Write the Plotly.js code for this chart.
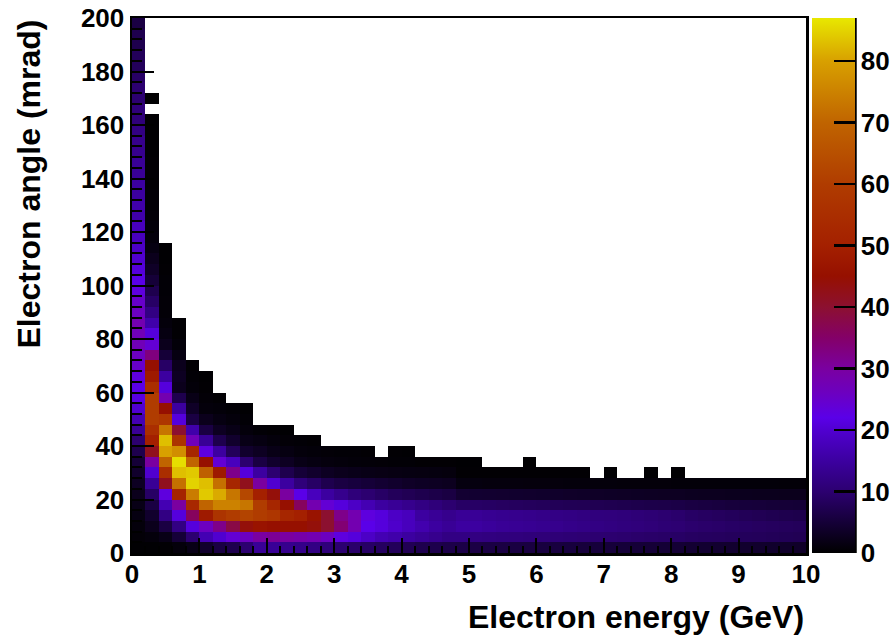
<!DOCTYPE html>
<html>
<head>
<meta charset="utf-8">
<script src="https://cdn.plot.ly/plotly-3.0.1.min.js"></script>
<style>html,body{margin:0;padding:0;background:#fff}</style>
</head>
<body>
<div id="chart" style="width:893px;height:636px"></div>
<script>
// Counts per angle bin (4 mrad wide, bottom to top), one array per energy bin (0.2 GeV wide).
// null = empty bin (left white).
const e00=[0.3,0.6,1,1.5,2,2.5,3,4,5,7,10,14,17,20,21.5,22,23,25,26,27,27,28,26,25,23,22,21,20,19,18,18,16,16,15,15,14,14,13,13,12,11,11,10,10,9,8,8,7,7,6];
const e01=[0.3,1,2.5,4,6,9,14,20,30,42,50,55,60,60,60,55,48,45,33,24,21,16,12,9,7,5,3.5,2.5,1.5,1,0.8,0.6,0.5,0.5,0.4,0.4,0.4,0.3,0.3,0.3,0.3,null,0.2];
const e02=[0.4,2,6,12,17,23,42,55,70,80,83,73,58,45,28,21,15,9,5,2.5,1.5,1,0.6,0.6,0.5,0.5,0.4,0.3,0.3];
const e03=[1,5,12,21,30,51,72,83,86,77,57,40,21,15,7,2.5,3,2.5,1.5,0.8,0.4,0.4];
const e04=[2,10,21,36,53,74,85,84,70,52,27,16,6,3.5,2,0.8,0.5,0.4];
const e05=[4,17,26,48,70,84,83,69,45,23,14,6,2.5,1,0.6,0.4,0.3];
const e06=[6,20,32,57,75,81,72,48,24,15,7,3,1.5,0.8,0.4];
const e07=[7,24,38,60,75,73,52,32,18,8,4,2,1,0.5];
const e08=[10,26,44,62,73,63,42,21,10,4,2,1,0.5,0.3];
const e09=[14,30,46,60,60,50,30,15,6,3,1.5,0.5];
const e10=[14,31,45,58,52,44,20,10,4,2,1,0.4];
const e11=[13,30,45,52,45,30,15,7,3,1.5,0.6,0.3];
const e12=[12.5,29,45,50,36,22,11,5,2,1,0.5];
const e13=[12,28,44,46,28,18,9,4,1.5,0.8,0.4];
const e14=[11,26,40,40,24,15,7,3,1.2,0.6];
const e15=[10,23,34,32,21,13,6,2.5,1,0.5];
const e16=[9.5,21,28,28,19,11,5.5,2.2,0.8,0.5];
const e17=[9,19,22,23,17,10,5,2,0.7,0.4];
const e18=[8.5,17,21,21,15,9,4.5,1.8,0.6];
const e19=[8,16,19.5,19,14,8,4,1.6,0.5,0.4];
const e20=[7.5,15,18,18,13,7.5,3.5,1.5,0.5,0.3];
const e21=[7,14,16.5,15,12,7,3.2,1.4,0.4];
const e22=[6.8,13,15,14,11,6.5,3,1.3,0.4];
const e23=[6.5,12,14,13,10,6,2.8,1.2,0.4];
const e24=[6.3,12,15,14,9,4.5,1.3,0.4,0.3];
const e25=[6.2,11.8,15,14,9,4.4,1.3,0.4,0.3];
const e26=[6.1,11.6,14.5,13.5,8.8,4.3,1.2,0.4];
const e27=[6,11.4,14,13.2,8.6,4.2,1.2,0.4];
const e28=[5.9,11.2,13.8,13,8.4,4.1,1.2,0.4];
const e29=[5.8,11,13.5,12.8,8.2,4,1.1,0.4,0.2];
const e30=[5.7,10.8,13.2,12.5,8,3.9,1.1,0.4];
const e31=[5.6,10.6,13,12.2,7.8,3.8,1.1,0.4];
const e32=[5.5,10.4,12.6,12,7.6,3.7,1,0.4];
const e33=[5.4,10.2,12.3,11.7,7.5,3.6,1,0.4];
const e34=[5.3,10,12,11.4,7.3,3.5,1];
const e35=[5.2,9.9,11.7,11.2,7.1,3.4,1,0.3];
const e36=[5.1,9.7,11.4,11,7,3.3,0.9];
const e37=[5,9.5,11.1,10.7,6.8,3.2,0.9];
const e38=[4.9,9.3,10.8,10.4,6.6,3.1,0.9,0.3];
const e39=[4.8,9.1,10.4,10,6.5,3,0.9];
const e40=[4.7,9,10.2,9.6,6.3,3,0.8,0.3];
const e41=[4.5,8.7,9.7,9,6,2.9,0.8];
const e42=[4.4,8.5,9.5,8.7,5.8,2.8,0.8];
const e43=[4.3,8.4,9.3,8.4,5.6,2.8,0.8];
const e44=[4.2,8.2,9,8.1,5.4,2.7,0.8];
const e45=[4.1,8.1,8.8,7.8,5.3,2.7,0.8];
const e46=[4,8,8.6,7.5,5.2,2.6,0.8];
const e47=[3.9,7.9,8.4,7.2,5,2.6,0.8];
const e48=[3.8,7.7,8.2,7,4.9,2.5,0.7];
const e49=[3.7,7.5,8,6.8,4.8,2.5,0.7];

const energyBins=[e00,e01,e02,e03,e04,e05,e06,e07,e08,e09,e10,e11,e12,e13,e14,e15,e16,e17,e18,e19,e20,e21,e22,e23,e24,e25,e26,e27,e28,e29,e30,e31,e32,e33,e34,e35,e36,e37,e38,e39,e40,e41,e42,e43,e44,e45,e46,e47,e48,e49];

const colorStops=[[0,'#000000'],[5,'#150038'],[10,'#2c0070'],[15,'#3c00a0'],[20,'#5000d0'],[22,'#5a00e8'],[26,'#6c00c0'],[30,'#7a00a0'],[35,'#840068'],[40,'#8c1030'],[45,'#961000'],[50,'#a42000'],[60,'#b03c00'],[70,'#c06400'],[80,'#d8a000'],[87,'#e8e800']];
const zMax=87;
const xTitle='Electron energy (GeV)';
const yTitle='Electron angle (mrad)';

const nAngle=50;
const z=[];
for(let r=0;r<nAngle;r++){
  z.push(energyBins.map(c=> (c[r]===undefined? null : c[r])));
}
const font='"Liberation Sans", Arial, sans-serif';
const tickFont={family:font,size:26,color:'#000',weight:700};
const W=893,H=636,L=132,R=806,T=18,B=553;

const trace={type:'heatmap',z:z,x0:0.1,dx:0.2,y0:2,dy:4,zmin:0,zmax:zMax,zsmooth:false,hoverongaps:false,
  colorscale:colorStops.map(s=>[s[0]/zMax,s[1]]),
  colorbar:{xref:'paper',x:(812-L)/(R-L),xanchor:'left',xpad:0,ypad:0,y:0,yanchor:'bottom',len:1,lenmode:'fraction',
    thickness:43,thicknessmode:'pixels',outlinewidth:0,tick0:0,dtick:10,ticks:'inside',ticklen:21,tickwidth:2.5,tickcolor:'#000',
    tickfont:tickFont,ticklabelstandoff:3}};

const layout={width:W,height:H,margin:{l:L,r:W-R,t:T,b:H-B,pad:0,autoexpand:false},paper_bgcolor:'#fff',plot_bgcolor:'#fff',showlegend:false,
  xaxis:{range:[0,10],tick0:0,dtick:1,ticks:'inside',ticklen:15,tickwidth:2,tickcolor:'#000',showgrid:false,zeroline:false,automargin:false,
    showline:true,linecolor:'#000',linewidth:2.5,mirror:true,tickfont:tickFont,ticklabelstandoff:-4,
    minor:{dtick:0.2,ticks:'inside',ticklen:7,tickwidth:2,tickcolor:'#000',showgrid:false}},
  yaxis:{range:[0,200],tick0:0,dtick:20,ticks:'inside',ticklen:22,tickwidth:2,tickcolor:'#000',showgrid:false,zeroline:false,automargin:false,
    showline:true,linecolor:'#000',linewidth:2.5,mirror:true,tickfont:tickFont,ticklabelstandoff:0,
    minor:{dtick:4,ticks:'inside',ticklen:10,tickwidth:2,tickcolor:'#000',showgrid:false}},
  annotations:[
    {xref:'paper',yref:'paper',x:1,y:-(617-B)/(B-T),xanchor:'right',yanchor:'middle',showarrow:false,text:xTitle,
     font:{family:font,size:32,color:'#000',weight:700}},
    {xref:'paper',yref:'paper',x:-(L-28)/(R-L),y:1,xanchor:'center',yanchor:'top',textangle:-90,showarrow:false,text:yTitle,
     font:{family:font,size:32,color:'#000',weight:700}}
  ],
  shapes:[{type:'line',xref:'paper',yref:'paper',x0:(855.5-L)/(R-L),x1:(855.5-L)/(R-L),y0:0,y1:1,line:{color:'#000',width:2.5}}]
};
Plotly.newPlot('chart',[trace],layout,{displayModeBar:false,staticPlot:true});
</script>
</body>
</html>
